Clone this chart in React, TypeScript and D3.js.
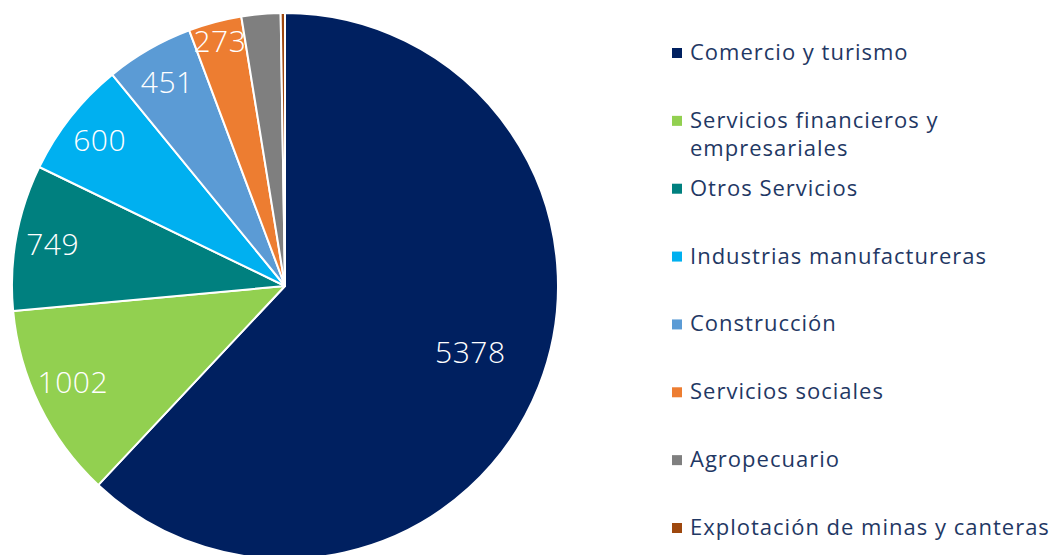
import React from "react";
import * as d3 from "d3";

const categories = [
  "Comercio y turismo",
  "Servicios financieros y empresariales",
  "Otros Servicios",
  "Industrias manufactureras",
  "Construcción",
  "Servicios sociales",
  "Agropecuario",
  "Explotación de minas y canteras",
];
const values = [5378, 1002, 749, 600, 451, 273, 200, 22];
const showLabel = [true, true, true, true, true, true, false, false];
const colors = ["#002060", "#92D050", "#00807F", "#00B0F0", "#5B9BD5", "#ED7D31", "#7F7F7F", "#9E480E"];
const legendLines = [
  ["Comercio y turismo"],
  ["Servicios financieros y", "empresariales"],
  ["Otros Servicios"],
  ["Industrias manufactureras"],
  ["Construcción"],
  ["Servicios sociales"],
  ["Agropecuario"],
  ["Explotación de minas y canteras"],
];

const W = 1054;
const H = 555;
const cx = 285;
const cy = 286;
const R = 273;
const FONT = "'Open Sans', sans-serif";

export default function App() {
  const data = categories.map((c, i) => ({ c, v: values[i], i }));
  const pie = d3.pie<any>().value((d) => d.v).sort(null).startAngle(0).endAngle(2 * Math.PI);
  const arcs = pie(data);
  const arc = d3.arc<any>().innerRadius(0).outerRadius(R);
  const total = d3.sum(values);
  const labelFactor = (v: number) => (v / total > 0.5 ? 0.73 : v / total < 0.04 ? 0.93 : 0.865);

  const legendY = d3.scalePoint<number>().domain(d3.range(categories.length)).range([53, 528]);

  return (
    <svg width={W} height={H} style={{ position: "absolute", left: 0, top: 0, background: "#fff" }}>
      <g transform={`translate(${cx},${cy})`}>
        {arcs.map((a, i) => (
          <path key={i} d={arc(a) || ""} fill={colors[i]} stroke="#fff" strokeWidth={2} strokeLinejoin="round" />
        ))}
        {arcs.map((a, i) => {
          if (!showLabel[i]) return null;
          const r = R * labelFactor(a.data.v);
          const [x, y0] = d3.arc<any>().innerRadius(r).outerRadius(r).centroid(a);
          const y = y0 > 0 ? y0 - 8 : y0;
          return (
            <text
              key={"l" + i}
              x={x}
              y={y}
              fill="#fff"
              fontFamily={FONT}
              fontWeight={300}
              fontSize={30}
              letterSpacing={0.5}
              textAnchor="middle"
              dominantBaseline="central"
            >
              {a.data.v}
            </text>
          );
        })}
      </g>
      <g>
        {categories.map((c, i) => {
          const y = legendY(i) as number;
          return (
            <g key={"g" + i}>
              <rect x={672} y={y - 5} width={10} height={10} fill={colors[i]} />
              {legendLines[i].map((ln, k) => (
                <text
                  key={k}
                  x={690}
                  y={y + 7 + k * 28}
                  fill="#1F3864"
                  fontFamily={FONT}
                  fontSize={22}
                  letterSpacing={1}
                >
                  {ln}
                </text>
              ))}
            </g>
          );
        })}
      </g>
    </svg>
  );
}
